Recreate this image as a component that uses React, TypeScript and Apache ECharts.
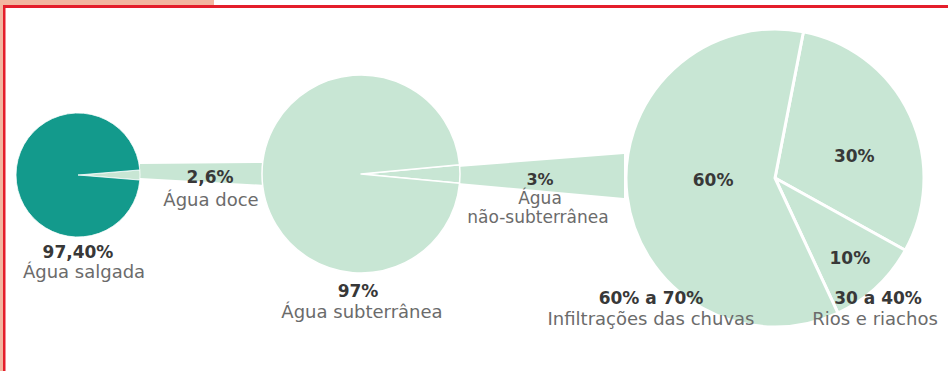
import React, { useEffect, useRef } from "react";
import * as echarts from "echarts";

// ---- data ----
const saltNames = ["Água doce", "Água salgada"];
const saltValues = [2.6, 97.4];
const freshNames = ["Água não-subterrânea", "Água subterrânea"];
const freshValues = [3, 97];
const surfaceNames = ["Rios e riachos A", "Rios e riachos B", "Infiltrações das chuvas"];
const surfaceValues = [30, 10, 60];

const pie1Labels = ["97,40%", "Água salgada"];
const band1Labels = ["2,6%", "Água doce"];
const pie2Labels = ["97%", "Água subterrânea"];
const band2Labels = ["3%", "Água", "não-subterrânea"];
const pie3LeftLabels = ["60% a 70%", "Infiltrações das chuvas"];
const pie3RightLabels = ["30 a 40%", "Rios e riachos"];

// ---- style ----
const TEAL = "#139a8c";
const LIGHT = "#c8e6d4";
const DARK = "#383838";
const GRAY = "#6b6b6b";
const FONT = "DejaVu Sans";

const P1 = { cx: 78, cy: 175, r: 62 };
const P2 = { cx: 361, cy: 174, r: 99 };
const P3 = { cx: 775, cy: 178, r: 149 };

function sum(a: number[]) {
  return a.reduce((s, v) => s + v, 0);
}

export default function App() {
  const ref = useRef<HTMLDivElement>(null);
  useEffect(() => {
    document.body.style.margin = "0";
    if (!ref.current) return;
    const chart = echarts.init(ref.current, undefined, { renderer: "svg" });

    const half1 = ((saltValues[0] / sum(saltValues)) * 360) / 2;
    const half2 = ((freshValues[0] / sum(freshValues)) * 360) / 2;

    const boldText = (x: number, y: number, t: string, size = 17) => ({
      type: "text",
      x,
      y,
      z: 10,
      style: {
        text: t,
        fill: DARK,
        font: `bold ${size}px "${FONT}"`,
        textAlign: "center",
        textVerticalAlign: "middle",
      },
    });
    const normText = (x: number, y: number, t: string, size = 18) => ({
      type: "text",
      x,
      y,
      z: 10,
      style: {
        text: t,
        fill: GRAY,
        font: `${size}px "${FONT}"`,
        textAlign: "center",
        textVerticalAlign: "middle",
      },
    });

    // connector bands from the small slice of one pie to the next pie
    const b1x0 = P1.cx + P1.r;
    const b1x1 = P2.cx - P2.r + 4;
    const b2x0 = P2.cx + P2.r - 2;
    const b2x1 = P3.cx - P3.r - 2;

    chart.setOption({
      animation: false,
      graphic: [
        { type: "rect", z: 0, shape: { x: 0, y: 0, width: 214, height: 6 }, style: { fill: "#f3b6a0" } },
        { type: "rect", z: 0, shape: { x: 0, y: 0, width: 3, height: 371 }, style: { fill: "#f3b6a0" } },
        { type: "rect", z: 1, shape: { x: 3, y: 5, width: 945, height: 3 }, style: { fill: "#e41e2b" } },
        { type: "rect", z: 1, shape: { x: 3, y: 5, width: 2.5, height: 366 }, style: { fill: "#e41e2b" } },
        {
          type: "polygon",
          z: 1,
          shape: {
            points: [
              [b1x0, P1.cy - 11],
              [b1x1, P1.cy - 12],
              [b1x1, P1.cy + 10],
              [b1x0, P1.cy + 3],
            ],
          },
          style: { fill: LIGHT },
        },
        {
          type: "polygon",
          z: 1,
          shape: {
            points: [
              [b2x0, P2.cy - 7],
              [b2x1, P2.cy - 20],
              [b2x1, P2.cy + 24],
              [b2x0, P2.cy + 9],
            ],
          },
          style: { fill: LIGHT },
        },
        boldText(P1.cx, 252, pie1Labels[0]),
        normText(P1.cx + 6, 271, pie1Labels[1]),
        boldText(210, 177, band1Labels[0]),
        normText(211, 199, band1Labels[1]),
        boldText(P2.cx - 3, 291, pie2Labels[0]),
        normText(P2.cx + 1, 311, pie2Labels[1]),
        boldText(540, 179, band2Labels[0], 16),
        normText(540, 198, band2Labels[1], 17),
        normText(538, 217, band2Labels[2], 17),
        boldText(651, 298, pie3LeftLabels[0]),
        normText(651, 318, pie3LeftLabels[1]),
        boldText(878, 298, pie3RightLabels[0]),
        normText(875, 318, pie3RightLabels[1]),
      ],
      series: [
        {
          type: "pie",
          z: 3,
          center: [P1.cx, P1.cy],
          radius: [0, P1.r],
          startAngle: half1,
          clockwise: true,
          label: { show: false },
          labelLine: { show: false },
          emphasis: { disabled: true },
          itemStyle: { borderColor: "#ffffff", borderWidth: 0.8 },
          data: saltNames.map((n, i) => ({
            name: n,
            value: saltValues[i],
            itemStyle: { color: i === 0 ? LIGHT : TEAL },
          })),
        },
        {
          type: "pie",
          z: 3,
          center: [P2.cx, P2.cy],
          radius: [0, P2.r],
          startAngle: half2,
          clockwise: true,
          label: { show: false },
          labelLine: { show: false },
          emphasis: { disabled: true },
          itemStyle: { color: LIGHT, borderColor: "#ffffff", borderWidth: 1.5 },
          data: freshNames.map((n, i) => ({ name: n, value: freshValues[i] })),
        },
        {
          type: "pie",
          z: 3,
          center: [P3.cx, P3.cy],
          radius: [0, P3.r],
          startAngle: 79,
          clockwise: true,
          labelLine: { show: false },
          emphasis: { disabled: true },
          itemStyle: { color: LIGHT, borderColor: "#ffffff", borderWidth: 3 },
          label: {
            show: true,
            position: "inside",
            formatter: "{c}%",
            color: DARK,
            fontFamily: FONT,
            fontWeight: "bold",
            fontSize: 17,
          },
          data: surfaceNames.map((n, i) => ({
            name: n,
            value: surfaceValues[i],
            label: { offset: [[9, 11], [22, 23], [15, -7]][i] },
          })),
        },
      ],
    });
    return () => chart.dispose();
  }, []);
  return <div ref={ref} style={{ width: 948, height: 371, background: "#ffffff" }} />;
}
